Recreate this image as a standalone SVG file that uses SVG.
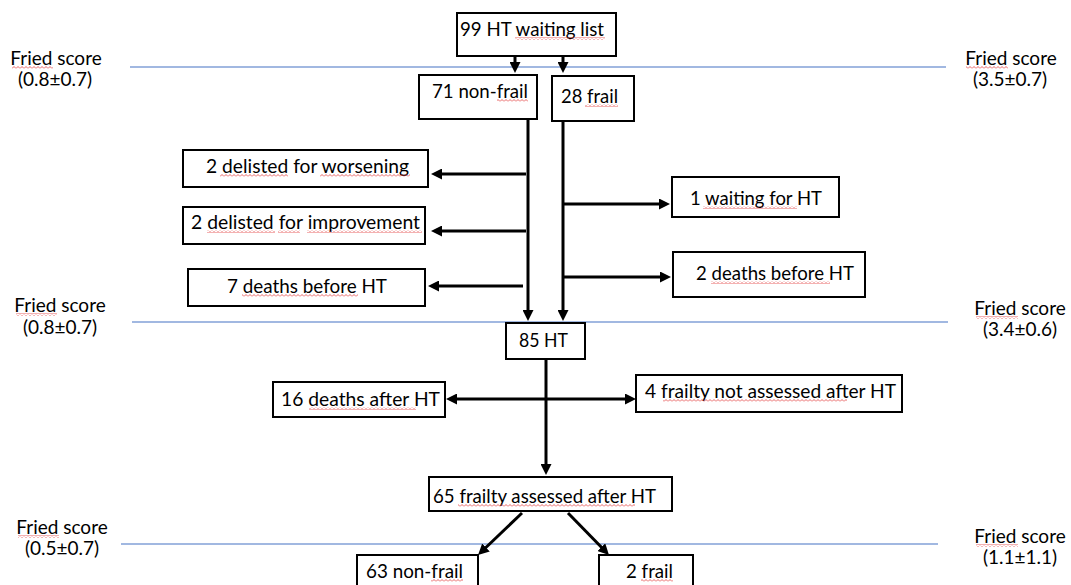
<svg xmlns="http://www.w3.org/2000/svg" width="1071" height="585" viewBox="0 0 1071 585">
<style>
.box{fill:#fff;stroke:#000;stroke-width:2}
.t{font-family:Lato,"Open Sans","Liberation Sans",sans-serif;font-size:19px;fill:#000}
.m{text-anchor:middle}
.c{stroke:#000;stroke-width:3;fill:none;marker-end:url(#ah)}
.sep{stroke:#4472c4;stroke-width:1.2}
.sq{fill:url(#zig)}
</style>
<defs>
<marker id="ah" viewBox="0 0 11 11" refX="3" refY="5.5" markerWidth="11" markerHeight="11" markerUnits="userSpaceOnUse" orient="auto-start-reverse">
<path d="M0,0 L11,5.5 L0,11 z" fill="#000"/>
</marker>
<pattern id="zig" width="4" height="3" patternUnits="userSpaceOnUse">
<path d="M0,2.5 L2,0.5 L4,2.5" fill="none" stroke="#e23b3b" stroke-width="0.8"/>
</pattern>
</defs>
<g id="separators">
<line class="sep" x1="130" y1="67" x2="946" y2="67"/>
<line class="sep" x1="132" y1="322" x2="948" y2="322"/>
<line class="sep" x1="121" y1="544" x2="938" y2="544"/>
</g>
<g id="fried-labels">
<text class="t m"><tspan x="56" y="65">Fried score</tspan><tspan x="55" y="86">(0.8±0.7)</tspan></text>
<text class="t m"><tspan x="1011" y="65">Fried score</tspan><tspan x="1010" y="86">(3.5±0.7)</tspan></text>
<text class="t m"><tspan x="60" y="312">Fried score</tspan><tspan x="60" y="334">(0.8±0.7)</tspan></text>
<text class="t m"><tspan x="1020" y="315">Fried score</tspan><tspan x="1020" y="336">(3.4±0.6)</tspan></text>
<text class="t m"><tspan x="62" y="534">Fried score</tspan><tspan x="62" y="555">(0.5±0.7)</tspan></text>
<text class="t m"><tspan x="1020" y="543">Fried score</tspan><tspan x="1020" y="564">(1.1±1.1)</tspan></text>
<rect class="sq" x="12" y="66" width="41" height="3"/>
<rect class="sq" x="966" y="66" width="42" height="3"/>
<rect class="sq" x="16" y="313" width="41" height="3"/>
<rect class="sq" x="976" y="316" width="42" height="3"/>
<rect class="sq" x="18" y="535" width="41" height="3"/>
<rect class="sq" x="976" y="544" width="42" height="3"/>
</g>
<g id="connectors">
<line class="c" x1="515" y1="56" x2="515" y2="65"/>
<line class="c" x1="563" y1="56" x2="563" y2="65"/>
<line class="c" x1="528" y1="119" x2="528" y2="313"/>
<line class="c" x1="563" y1="121" x2="563" y2="313"/>
<line class="c" x1="526" y1="174" x2="439" y2="174"/>
<line class="c" x1="526" y1="231" x2="439" y2="231"/>
<line class="c" x1="523" y1="286" x2="436" y2="286"/>
<line class="c" x1="563" y1="204" x2="662" y2="204"/>
<line class="c" x1="563" y1="277" x2="663" y2="277"/>
<line class="c" x1="546" y1="359" x2="546" y2="467"/>
<line class="c" x1="454" y1="399" x2="628" y2="399" style="marker-start:url(#ah)"/>
<line class="c" x1="522" y1="513" x2="483.8" y2="549.5"/>
<line class="c" x1="568" y1="513" x2="603.4" y2="549.3"/>
</g>
<g id="n-waitlist"><rect class="box" x="457" y="13" width="159" height="43"/><text class="t" x="460" y="36" textLength="144" lengthAdjust="spacingAndGlyphs">99 HT waiting list</text><rect class="sq" x="515" y="37" width="90" height="3"/></g>
<g id="n-nonfrail"><rect class="box" x="419" y="75" width="118" height="44"/><text class="t" x="432" y="98" textLength="96" lengthAdjust="spacingAndGlyphs">71 non-frail</text><rect class="sq" x="497" y="99" width="31" height="3"/></g>
<g id="n-frail"><rect class="box" x="552" y="76" width="82" height="45"/><text class="t" x="561" y="103" textLength="57" lengthAdjust="spacingAndGlyphs">28 frail</text><rect class="sq" x="585" y="104" width="33" height="3"/></g>
<g id="n-worsening"><rect class="box" x="183" y="150" width="245" height="37"/><text class="t" x="206" y="173" textLength="203" lengthAdjust="spacingAndGlyphs">2 delisted for worsening</text><rect class="sq" x="220" y="174" width="68" height="3"/><rect class="sq" x="320" y="174" width="90" height="3"/></g>
<g id="n-improvement"><rect class="box" x="183" y="207" width="242" height="37"/><text class="t" x="191" y="229" textLength="229" lengthAdjust="spacingAndGlyphs">2 delisted for improvement</text><rect class="sq" x="207" y="230" width="68" height="3"/><rect class="sq" x="278" y="230" width="22" height="3"/><rect class="sq" x="307" y="230" width="115" height="3"/></g>
<g id="n-deaths-before-nf"><rect class="box" x="188" y="269" width="237" height="37"/><text class="t" x="227" y="293" textLength="160" lengthAdjust="spacingAndGlyphs">7 deaths before HT</text><rect class="sq" x="242" y="294" width="116" height="3"/></g>
<g id="n-waiting"><rect class="box" x="672" y="177" width="167" height="40"/><text class="t" x="690" y="205" textLength="132" lengthAdjust="spacingAndGlyphs">1 waiting for HT</text><rect class="sq" x="703" y="206" width="94" height="3"/></g>
<g id="n-deaths-before-f"><rect class="box" x="673" y="252" width="192" height="45"/><text class="t" x="696" y="280" textLength="158" lengthAdjust="spacingAndGlyphs">2 deaths before HT</text><rect class="sq" x="711" y="281" width="119" height="3"/></g>
<g id="n-ht"><rect class="box" x="506" y="323" width="79" height="36"/><text class="t" x="519" y="347" textLength="49" lengthAdjust="spacingAndGlyphs">85 HT</text></g>
<g id="n-deaths-after"><rect class="box" x="273" y="382" width="172" height="35"/><text class="t" x="281" y="406" textLength="159" lengthAdjust="spacingAndGlyphs">16 deaths after HT</text><rect class="sq" x="309" y="407" width="107" height="3"/></g>
<g id="n-not-assessed"><rect class="box" x="636" y="375" width="266" height="37"/><text class="t" x="645" y="398" textLength="251" lengthAdjust="spacingAndGlyphs">4 frailty not assessed after HT</text><rect class="sq" x="663" y="399" width="184" height="3"/></g>
<g id="n-assessed"><rect class="box" x="429" y="477" width="243" height="34"/><text class="t" x="433" y="503" textLength="223" lengthAdjust="spacingAndGlyphs">65 frailty assessed after HT</text><rect class="sq" x="458" y="504" width="177" height="3"/></g>
<g id="n-nonfrail-after"><rect class="box" x="357" y="555" width="121" height="40"/><text class="t" x="366" y="578" textLength="97" lengthAdjust="spacingAndGlyphs">63 non-frail</text><rect class="sq" x="431" y="579" width="32" height="3"/></g>
<g id="n-frail-after"><rect class="box" x="599" y="555" width="94" height="40"/><text class="t" x="626" y="578" textLength="47" lengthAdjust="spacingAndGlyphs">2 frail</text><rect class="sq" x="641" y="579" width="32" height="3"/></g>
</svg>
